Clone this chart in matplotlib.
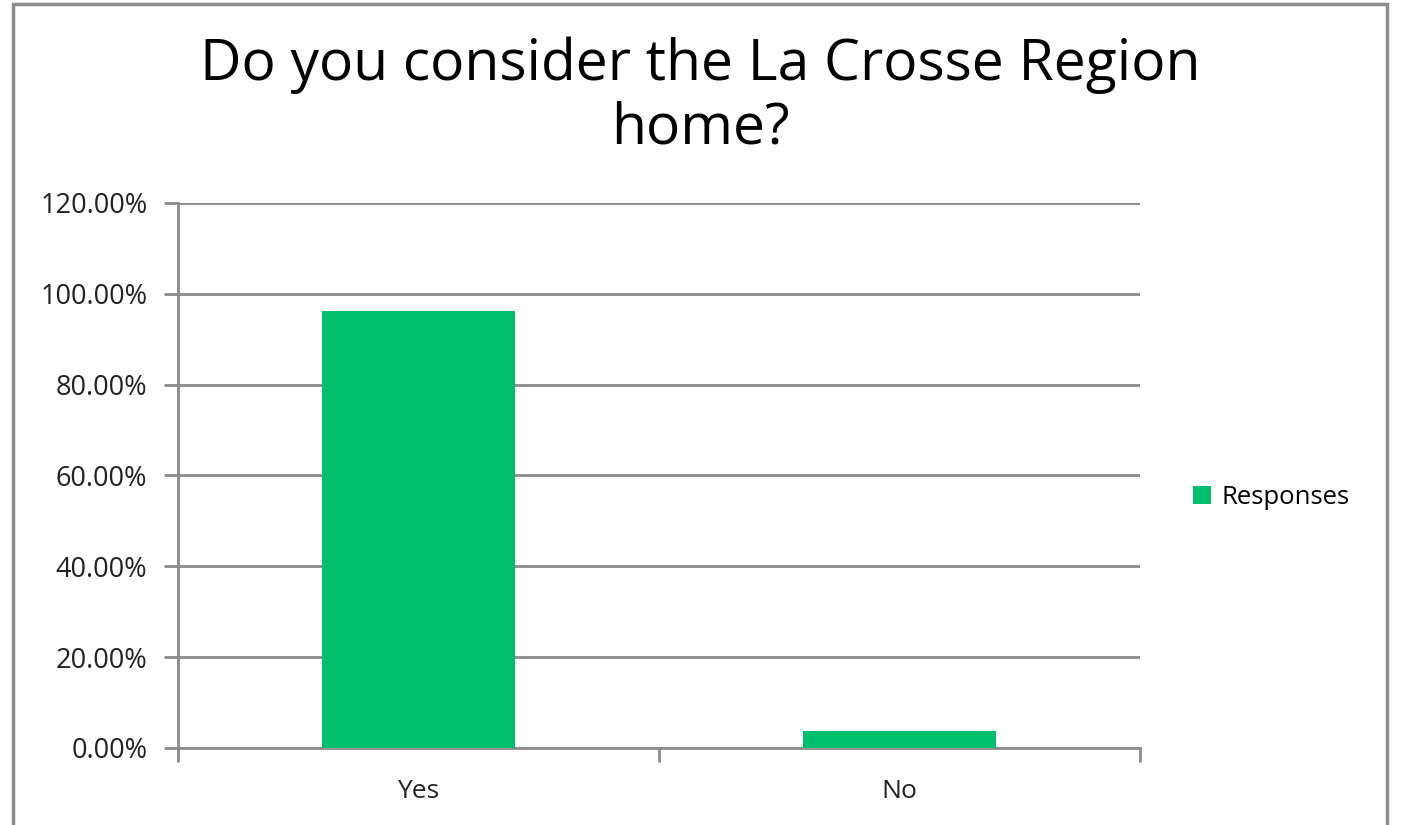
import matplotlib
matplotlib.use("Agg")
import matplotlib.pyplot as plt
from matplotlib.patches import Rectangle
from matplotlib.ticker import FuncFormatter, FixedLocator

categories = ["Yes", "No"]
responses = [96.3, 3.7]
yticks = [0, 20, 40, 60, 80, 100, 120]

GREEN = "#00BF6F"
GRAY = "#8C8C8C"
plt.rcParams["font.family"] = ["Open Sans", "DejaVu Sans"]

W, H = 1402, 825
fig = plt.figure(figsize=(W / 100, H / 100), dpi=100)
ax = fig.add_axes([178 / W, 1 - 748 / H, (1140 - 178) / W, (748 - 203) / H])

x = list(range(len(categories)))
ax.bar(x, responses, width=0.4, color=GREEN, zorder=3, label="Responses")
ax.set_xlim(-0.5, len(categories) - 0.5)
ax.set_ylim(0, 120)

ax.yaxis.set_major_locator(FixedLocator(yticks))
ax.yaxis.set_major_formatter(FuncFormatter(lambda v, p: f"{v:.2f}%"))
ax.grid(axis="y", color=GRAY, lw=2, zorder=0)
ax.set_xticks(x)
ax.set_xticklabels(categories)
ax.xaxis.set_minor_locator(FixedLocator([-0.5, 0.5, 1.5]))
ax.tick_params(axis="x", which="major", length=0, pad=22, labelsize=19, labelcolor="#222222")
ax.tick_params(axis="x", which="minor", length=10, width=2, color=GRAY)
ax.tick_params(axis="y", length=10, width=2, color=GRAY, labelsize=19.5, labelcolor="#222222", pad=12)
for s in ("top", "right"):
    ax.spines[s].set_visible(False)
for s in ("left", "bottom"):
    ax.spines[s].set_color(GRAY)
    ax.spines[s].set_linewidth(2)

fig.text(700 / W, 1 - 97 / H, "Do you consider the La Crosse Region\nhome?",
         ha="center", va="center", fontsize=41, linespacing=1.17, color="black")

fig.legend(loc="center left", bbox_to_anchor=(1170 / W, 1 - 497 / H), frameon=False,
           fontsize=18.5, handlelength=0.7, handleheight=0.7, handletextpad=0.4)

fig.patches.append(Rectangle((13 / W, -0.05), (1387 - 13) / W, 1.05 - 4 / H,
                             transform=fig.transFigure, fill=False, edgecolor=GRAY, lw=2.5))

fig.savefig("out.png", dpi=100)
